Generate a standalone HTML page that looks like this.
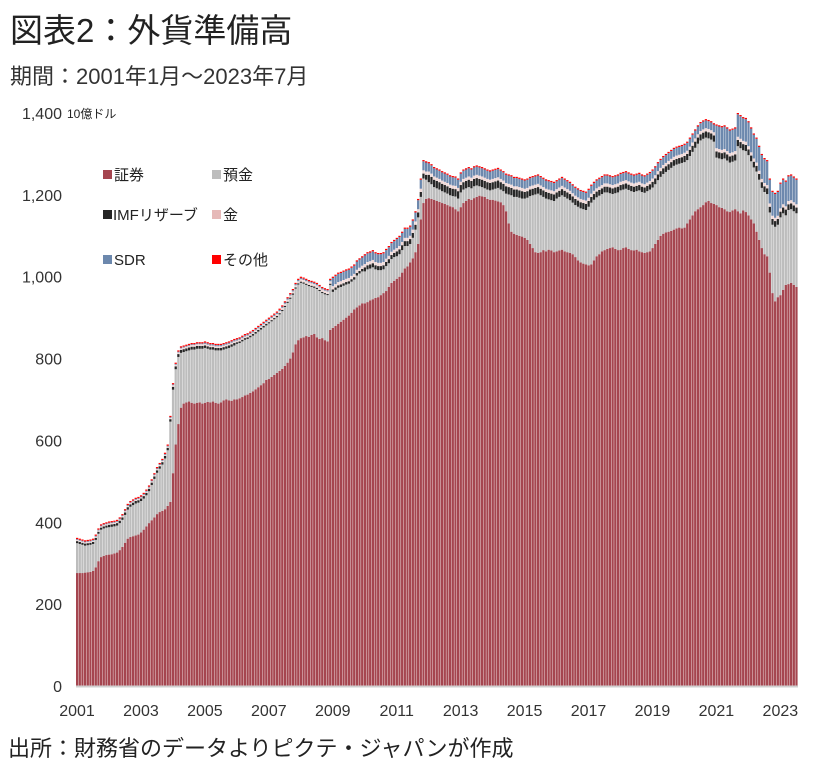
<!DOCTYPE html>
<html><head><meta charset="utf-8"><style>
body{margin:0;background:#fff;}
svg{display:block;font-family:"Liberation Sans","Noto Sans CJK JP",sans-serif;}
</style></head><body>
<svg id="c" width="817" height="775" viewBox="0 0 817 775">
<text x="10" y="42" font-size="33" fill="#222">図表2：外貨準備高</text>
<text x="10" y="84" font-size="22" fill="#333">期間：2001年1月～2023年7月</text>
<text x="67" y="118" font-size="12" fill="#222">10億ドル</text>
<g id="bars"></g>
<g id="axes"></g>
<g>
<g><rect x="103" y="170" width="9" height="9" fill="#a5454f"/><text x="114" y="180" font-size="15" fill="#222">証券</text></g>
<g><rect x="212" y="170" width="9" height="9" fill="#bdbdbd"/><text x="223" y="180" font-size="15" fill="#222">預金</text></g>
<g><rect x="103" y="210" width="9" height="9" fill="#262626"/><text x="113" y="220" font-size="15" fill="#222">IMFリザーブ</text></g>
<g><rect x="212" y="210" width="9" height="9" fill="#e6b9b8"/><text x="223" y="220" font-size="15" fill="#222">金</text></g>
<g><rect x="103" y="255" width="9" height="9" fill="#6c88ad"/><text x="114" y="265" font-size="15" fill="#222">SDR</text></g>
<g><rect x="212" y="255" width="9" height="9" fill="#ff0000"/><text x="223" y="265" font-size="15" fill="#222">その他</text></g>
</g>
<text x="8" y="756" font-size="22" fill="#222">出所：財務省のデータよりピクテ・ジャパンが作成</text>
</svg>
<script>
const securities=[
276,276,276,277,278,279,281,290,305,315,318,320,
321,322,324,326,332,340,350,360,364,366,368,370,
375,382,390,398,405,412,420,425,428,432,440,450,
520,590,640,680,690,693,695,692,690,692,693,690,
692,694,693,695,692,690,693,698,700,698,697,700,
700,703,706,710,712,716,720,725,730,735,740,748,
750,755,760,765,770,775,782,790,800,815,835,845,
850,852,855,853,858,860,852,848,850,845,842,870,
875,880,885,890,895,900,905,912,920,925,930,935,
935,938,942,945,948,950,955,960,965,975,985,990,
995,1000,1010,1020,1025,1035,1045,1060,1080,1140,1180,1190,
1192,1190,1188,1185,1183,1180,1178,1175,1172,1170,1165,1160,
1170,1180,1185,1190,1188,1192,1195,1198,1196,1195,1190,1188,
1188,1186,1184,1182,1175,1160,1130,1110,1105,1102,1100,1098,
1095,1090,1080,1070,1060,1058,1060,1065,1062,1066,1064,1060,
1062,1064,1066,1062,1060,1058,1055,1048,1040,1035,1032,1030,
1028,1030,1040,1050,1055,1062,1065,1068,1070,1072,1068,1065,
1066,1070,1072,1068,1065,1064,1066,1062,1060,1058,1060,1062,
1070,1080,1090,1100,1105,1108,1110,1112,1115,1118,1120,1118,
1120,1130,1140,1150,1160,1165,1170,1175,1182,1185,1180,1178,
1175,1170,1168,1165,1160,1158,1162,1165,1160,1155,1162,1158,
1150,1140,1130,1110,1090,1070,1055,1050,1010,960,940,950,
955,968,980,982,985,980,975];
const deposits=[
73,71,69,66,66,66,66,67,67,67,67,67,
67,67,66,66,66,66,68,71,74,76,78,78,
77,76,76,78,86,94,101,106,113,124,136,196,
204,184,164,134,126,125,125,130,132,132,131,134,
134,130,129,127,128,130,127,124,124,128,132,132,
136,135,136,136,136,136,136,136,136,136,136,133,
136,136,136,136,138,141,144,146,146,141,136,136,
135,131,125,124,117,113,118,117,110,112,113,110,
88,88,88,85,83,81,78,76,73,78,78,78,
78,80,78,78,70,66,61,58,61,58,58,58,
55,55,55,55,50,45,50,55,65,55,60,47,
39,36,31,31,30,29,28,28,27,27,31,31,
36,33,31,29,28,29,28,23,23,21,23,23,
25,29,33,31,34,43,71,89,90,93,93,93,
96,103,117,129,141,145,139,130,129,123,123,125,
129,131,133,133,131,129,126,127,131,132,133,133,
143,151,148,144,143,140,141,138,134,130,136,141,
145,143,143,144,144,143,143,149,147,147,149,151,
148,146,146,144,146,148,151,154,156,156,156,160,
160,155,155,155,155,160,163,162,158,153,155,152,
116,119,119,124,124,121,119,119,159,159,147,149,
147,142,137,147,147,147,152,152,147,167,182,177,
190,187,170,181,180,180,180];
const years=[2001,2002,2003,2004,2005,2006,2007,2008,2009,2010,2011,2012,2013,2014,2015,2016,2017,2018,2019,2020,2021,2022,2023];
const imfAnnual=[5,6,6,7,6,4,3,3,6,10,12,18,18,18,16,15,14,13,14,15,15,14,14];
const goldAnnual=[3,3,3,4,4,4,5,6,8,8,8,8,8,8,8,8,8,8,8,8,8,8,8];
const sdrAnnual=[2,2,2,2,3,3,3,3,20,21,22,20,20,20,20,19,19,19,19,19,55,58,60];
const otherAnnual=[3,3,3,3,3,3,3,3,3,3,3,3,3,3,3,3,3,3,3,3,3,3,3];
const yTicks=[0,200,400,600,800,1000,1200,1400];
const yTickLabels=["0","200","400","600","800","1,000","1,200","1,400"];
const xTickYears=[2001,2003,2005,2007,2009,2011,2013,2015,2017,2019,2021,2023];

const NS="http://www.w3.org/2000/svg";
const X0=76,X1=798,Y0=686,Y1=113,YMAX=1400;
const n=securities.length;
const bw=(X1-X0)/n;
const yS=v=>Y0-v/YMAX*(Y0-Y1);
const xS=i=>X0+i*bw;
const bars=document.getElementById('bars');
const axes=document.getElementById('axes');
function mk(tag,attrs,parent){const e=document.createElementNS(NS,tag);for(const k in attrs)e.setAttribute(k,attrs[k]);parent.appendChild(e);return e;}
const colors=["#a5454f","#bdbdbd","#262626","#f0d8d7","#6c88ad","#ff0000"];
const names=["securities","deposits","imf","gold","sdr","other"];
for(let i=0;i<n;i++){
  const yi=Math.floor(i/12);
  const vals=[securities[i],deposits[i],imfAnnual[yi],goldAnnual[yi],sdrAnnual[yi],otherAnnual[yi]];
  let base=0;
  for(let s=0;s<6;s++){
    const top=base+vals[s];
    const r=mk('rect',{x:xS(i).toFixed(2),y:yS(top).toFixed(2),width:(bw*0.85).toFixed(2),height:(yS(base)-yS(top)).toFixed(2),fill:colors[s]},bars);
    
    
    base=top;
  }
}
const ax=mk('line',{x1:X0,x2:X1,y1:Y0+0.5,y2:Y0+0.5,stroke:"#d0d0d0","stroke-width":2},axes);


yTicks.forEach((v,k)=>{
  const t=mk('text',{x:62,y:yS(v)+6,"text-anchor":"end","font-size":16,fill:"#333"},axes);
  t.textContent=yTickLabels[k];
  
  
});
xTickYears.forEach(yr=>{
  const i=(yr-years[0])*12;
  const t=mk('text',{x:xS(i)+1,y:716,"text-anchor":"middle","font-size":16,fill:"#333"},axes);
  t.textContent=String(yr);
  
  
});
</script>
</body></html>
